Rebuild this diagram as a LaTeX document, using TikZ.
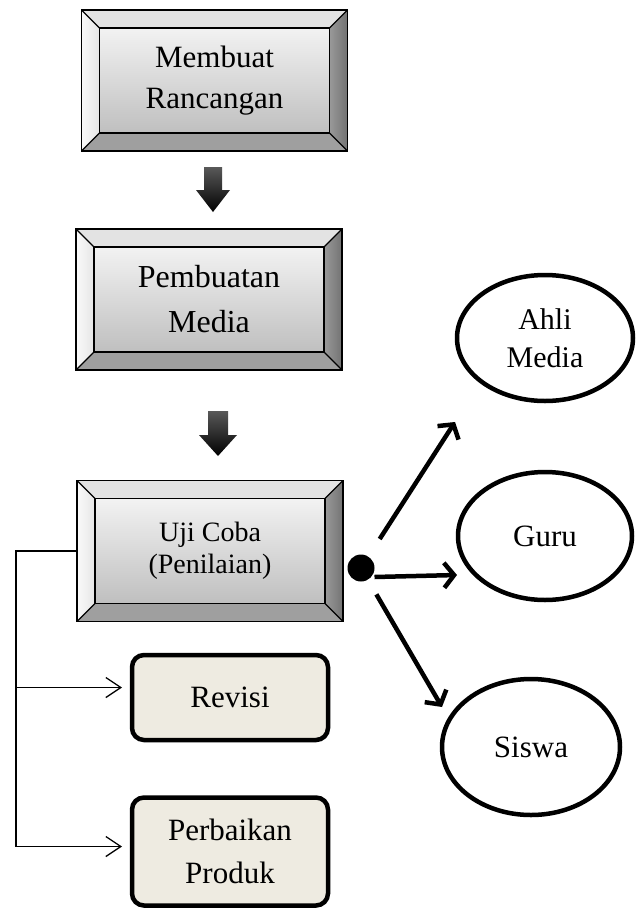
\documentclass[tikz,border=0pt]{standalone}
\usepackage{fontspec}
\setmainfont{Liberation Serif}
\usetikzlibrary{arrows.meta,shapes.geometric,calc}
\definecolor{kotakisi}{HTML}{EEEBE1}
\newcommand{\bevelsides}[2]{%
\fill[gray!22] (#1.north west) -- (#1.north east) -- (#2.north east) -- (#2.north west) -- cycle;
\shade[left color=gray!4, right color=gray!20] (#1.north west) -- (#2.north west) -- (#2.south west) -- (#1.south west) -- cycle;
\shade[left color=gray!80, right color=gray!110] (#1.north east) -- (#1.south east) -- (#2.south east) -- (#2.north east) -- cycle;
\fill[gray!75] (#1.south west) -- (#2.south west) -- (#2.south east) -- (#1.south east) -- cycle;
\draw[line width=1.1pt] (#1.north west) -- (#2.north west) (#1.north east) -- (#2.north east) (#1.south west) -- (#2.south west) (#1.south east) -- (#2.south east);
\draw[line width=1.8pt] (#1.north west) rectangle (#1.south east) (#2.north west) rectangle (#2.south east);}
\newcommand{\blokpanah}[6]{\path[panah] (#1-#5,#2) -- (#1+#5,#2) -- (#1+#5,#3) -- (#1+#6,#3) -- (#1,#4) -- (#1-#6,#3) -- (#1-#5,#3) -- cycle;}

\begin{document}
\begin{tikzpicture}[x=1pt,y=-1pt]
\tikzset{every node/.style={align=center, inner sep=0pt, outer sep=0pt}}
\tikzset{bingkai/.style={minimum width=266pt, minimum height=141pt}}
\tikzset{muka/.style={top color=gray!10, bottom color=gray!50, minimum width=230pt, minimum height=105pt}}
\tikzset{kotak/.style={draw, line width=4.5pt, rounded corners=12pt, fill=kotakisi, minimum width=196pt}}
\tikzset{oval/.style={ellipse, draw, line width=4.5pt, fill=white}}
\tikzset{panah/.style={top color=black!65, bottom color=black}}
\tikzset{tebal/.style={line width=4.5pt, -{Straight Barb[length=10pt,width=25pt]}}}
\tikzset{tipis/.style={line width=1.3pt, -{Straight Barb[length=15pt,width=20pt]}, shorten >=10pt}}
\useasboundingbox (0,0) rectangle (635,908);
%%%%%% Membuat Rancangan
\node(rancangan)at(214.5,80.5)[bingkai]{};
\node(rancanganin)at(rancangan)[muka,font=\fontsize{31}{41}\selectfont]{Membuat\\Rancangan};
\bevelsides{rancangan}{rancanganin}
\blokpanah{213}{167}{190}{212}{9}{17}

%%%%%% Pembuatan Media
\node(pembuatan)at(209,299.5)[bingkai]{};
\node(pembuatanin)at(pembuatan)[muka,font=\fontsize{32}{45}\selectfont]{Pembuatan\\Media};
\bevelsides{pembuatan}{pembuatanin}
\blokpanah{218}{411}{435}{456}{10}{19}

%%%%%% Uji Coba
\node(ujicoba)at(210,551)[bingkai]{};
\node(ujicobain)at(ujicoba)[muka,font=\fontsize{28}{32}\selectfont]{Uji Coba\\(Penilaian)};
\bevelsides{ujicoba}{ujicobain}

%%%%%% Revisi, Perbaikan
\node(revisi)at(230,697.5)[kotak,minimum height=85pt,font=\fontsize{31}{41}\selectfont]{Revisi};
\node(perbaikan)at(230,851.5)[kotak,minimum height=108pt,font=\fontsize{31}{43}\selectfont]{Perbaikan\\Produk};
\coordinate(kiri)at(16,549);
\draw[tipis] (ujicoba.west) -- (ujicoba.west -| kiri) |- ([yshift=10pt]revisi.west);
\draw[tipis] (ujicoba.west -| kiri) |- ([yshift=5pt]perbaikan.west);

%%%%%% penilai
\node(ahli)at(545,338)[oval,minimum width=176pt,minimum height=126pt,font=\fontsize{30}{38}\selectfont]{Ahli\\Media};
\node(guru)at(545,536)[oval,minimum width=174pt,minimum height=128pt,font=\fontsize{31}{38}\selectfont]{Guru};
\node(siswa)at(531,747)[oval,minimum width=178pt,minimum height=136pt,font=\fontsize{31}{38}\selectfont]{Siswa};
\node(titik)at(361,568)[circle,fill=black,minimum size=27pt]{};
\coordinate(keahli)at(455,422);
\coordinate(keguru)at(457,575);
\coordinate(kesiswa)at(442,707);
\draw[tebal,shorten <=21pt] (titik) -- (keahli);
\draw[tebal] ([yshift=-9pt]titik.east) -- (keguru);
\draw[tebal,shorten <=17pt] (titik) -- (kesiswa);
\end{tikzpicture}
\end{document}
